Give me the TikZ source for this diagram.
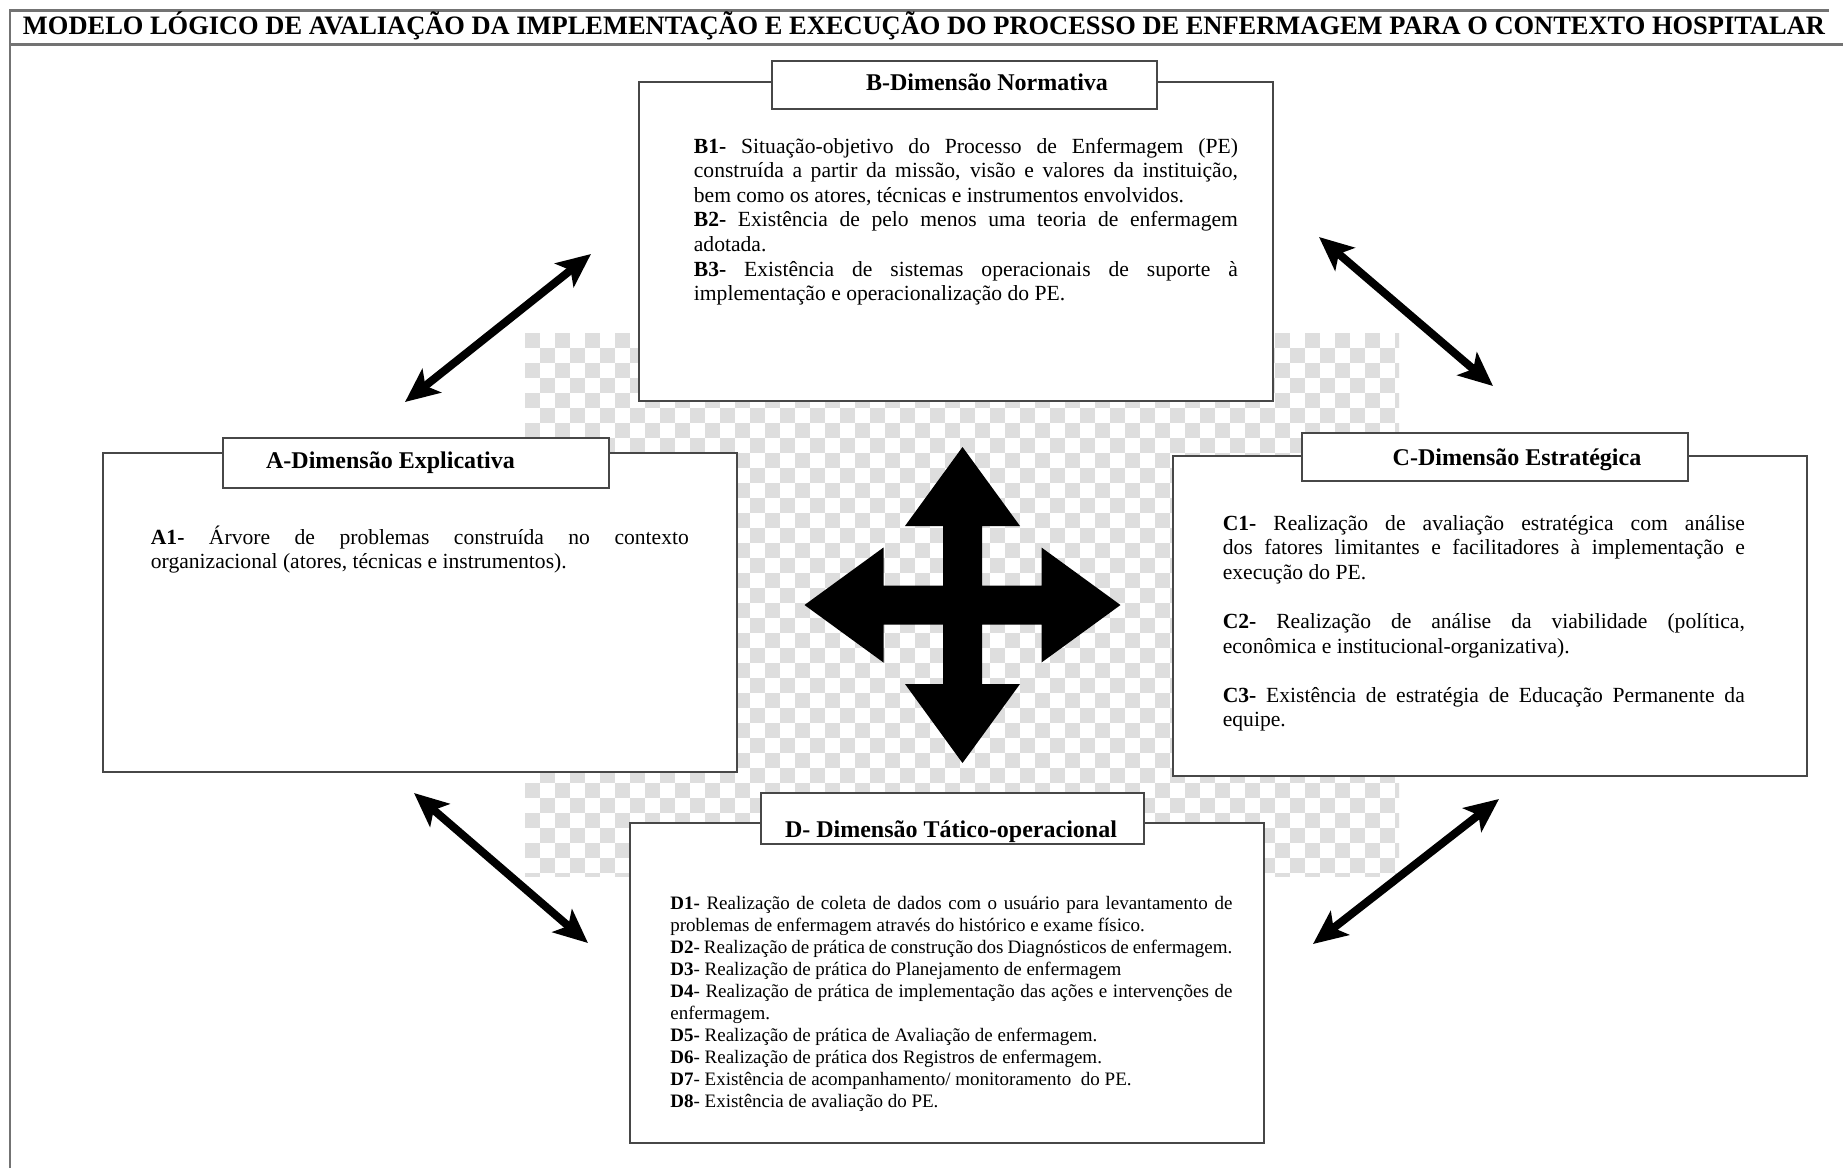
\documentclass[tikz,border=0pt]{standalone}
\usepackage{fontspec}
\setmainfont{Liberation Serif}
\usetikzlibrary{arrows.meta}
\begin{document}
\begin{tikzpicture}[x=0.5pt,y=-0.5pt,
  box/.style={draw=black!72, line width=1pt, fill=white, inner sep=0pt, minimum width=316.8pt},
  tabbox/.style={draw=black!72, line width=1pt, fill=white, inner sep=0pt},
  tabtitle/.style={font=\fontsize{12}{14}\selectfont\bfseries, inner sep=0pt, anchor=base},
  bodytext/.style={anchor=base west, inner sep=0pt, align=justify, font=\fontsize{10.8}{12.3}\selectfont},
  bodysmall/.style={anchor=base west, inner sep=0pt, align=justify, font=\fontsize{9.5}{11}\selectfont},
  dblarrow/.style={line width=4pt, {Stealth[length=17pt,width=15pt,inset=4pt]}-{Stealth[length=17pt,width=15pt,inset=4pt]}},
  framelines/.style={draw=black!55, line width=1.4pt},
  chk/.style={fill=black!13}
]
\useasboundingbox (0,0) rectangle (1843,1168);
\fill[white] (0,0) rectangle (1843,1168);

% title frame
\draw[framelines] (10,1168) -- (10,10.7) -- (1829,10.7);
\draw[framelines] (10,44.3) -- (1843,44.3);
\node[inner sep=0pt, anchor=base] (title) at (924,34.3)
  {\resizebox{901pt}{\height}{\fontsize{13.3}{15}\selectfont\bfseries MODELO LÓGICO DE AVALIAÇÃO DA IMPLEMENTAÇÃO E EXECUÇÃO DO PROCESSO DE ENFERMAGEM PARA O CONTEXTO HOSPITALAR}};

% checkerboard background
\begin{scope}
\clip (525,333) rectangle (1399,876);
\foreach \i in {0,...,29} {
  \foreach \j in {0,...,18} {
    \fill[chk] ({525+30*\i},{333+30*\j}) rectangle ++(15,15);
    \fill[chk] ({540+30*\i},{348+30*\j}) rectangle ++(15,15);
  }
}
\end{scope}

% B box
\node[box, minimum height=159.3pt] (B) at (956.2,241.6) {};
\node[tabbox, minimum width=192.2pt, minimum height=24.1pt] (Btab) at (964.4,85.2) {};
\node[tabtitle] (Btitle) at (987,90) {B-Dimensão Normativa};
\node[bodytext, text width=272pt] (Btext) at (693.5,153) {%
\textbf{B1-} Situação-objetivo do Processo de Enfermagem (PE)\linebreak
construída a partir da missão, visão e valores da instituição,\linebreak
bem como os atores, técnicas e instrumentos envolvidos.\par
\textbf{B2-} Existência de pelo menos uma teoria de enfermagem\linebreak
adotada.\par
\textbf{B3-} Existência de sistemas operacionais de suporte à\linebreak
implementação e operacionalização do PE.};

% A box
\node[box, minimum height=159.85pt] (A) at (420.2,612.35) {};
\node[tabbox, minimum width=192.8pt, minimum height=24.7pt] (Atab) at (416.1,463.1) {};
\node[tabtitle] (Atitle) at (390.5,468) {A-Dimensão Explicativa};
\node[bodytext, text width=269pt] (Atext) at (150.5,544) {%
\textbf{A1-} Árvore de problemas construída no contexto\linebreak
organizacional (atores, técnicas e instrumentos).};

% C box
\node[box, minimum height=159.85pt] (C) at (1489.8,615.95) {};
\node[tabbox, minimum width=192.8pt, minimum height=24.05pt] (Ctab) at (1495.1,456.65) {};
\node[tabtitle] (Ctitle) at (1517,465) {C-Dimensão Estratégica};
\node[bodytext, text width=261pt] (Ctext) at (1222.4,530) {%
\textbf{C1-} Realização de avaliação estratégica com análise\linebreak
dos fatores limitantes e facilitadores à implementação e\linebreak
execução do PE.\par\vskip 12.3pt
\textbf{C2-} Realização de análise da viabilidade (política,\linebreak
econômica e institucional-organizativa).\par\vskip 12.3pt
\textbf{C3-} Existência de estratégia de Educação Permanente da\linebreak
equipe.};

% D box
\node[box, minimum height=159.85pt] (D) at (946.8,982.65) {};
\node[tabbox, minimum width=191.6pt, minimum height=25.25pt] (Dtab) at (952.1,818.65) {};
\node[tabtitle] (Dtitle) at (951,837) {D- Dimensão Tático-operacional};
\node[bodysmall, text width=281pt] (Dtext) at (670,909) {%
\textbf{D1-} Realização de coleta de dados com o usuário para levantamento de\linebreak
problemas de enfermagem através do histórico e exame físico.\par
\textbf{D2}- Realização de prática de construção dos Diagnósticos de enfermagem.\par
\textbf{D3}- Realização de prática do Planejamento de enfermagem\par
\textbf{D4}- Realização de prática de implementação das ações e intervenções de\linebreak
enfermagem.\par
\textbf{D5-} Realização de prática de Avaliação de enfermagem.\par
\textbf{D6}- Realização de prática dos Registros de enfermagem.\par
\textbf{D7}- Existência de acompanhamento/ monitoramento\ \ do PE.\par
\textbf{D8}- Existência de avaliação do PE.};

% central four-way arrow
\begin{scope}[shift={(962.5,605)}]
\fill[black] (0,-158) -- (57.5,-79) -- (19.5,-79) -- (19.5,-19.5) -- (79,-19.5) -- (79,-57.5)
  -- (158,0) -- (79,57.5) -- (79,19.5) -- (19.5,19.5) -- (19.5,79) -- (57.5,79)
  -- (0,158) -- (-57.5,79) -- (-19.5,79) -- (-19.5,19.5) -- (-79,19.5) -- (-79,57.5)
  -- (-158,0) -- (-79,-57.5) -- (-79,-19.5) -- (-19.5,-19.5) -- (-19.5,-79) -- (-57.5,-79) -- cycle;
\end{scope}

% diagonal double arrows
\coordinate (ab1) at (405,402);
\coordinate (ab2) at (591,254);
\coordinate (bc1) at (1319,237);
\coordinate (bc2) at (1493,386);
\coordinate (ad1) at (414,793);
\coordinate (ad2) at (588,943);
\coordinate (cd1) at (1313,944);
\coordinate (cd2) at (1499,799);
\draw[dblarrow] (ab1) -- (ab2);
\draw[dblarrow] (bc1) -- (bc2);
\draw[dblarrow] (ad1) -- (ad2);
\draw[dblarrow] (cd1) -- (cd2);
\end{tikzpicture}
\end{document}
